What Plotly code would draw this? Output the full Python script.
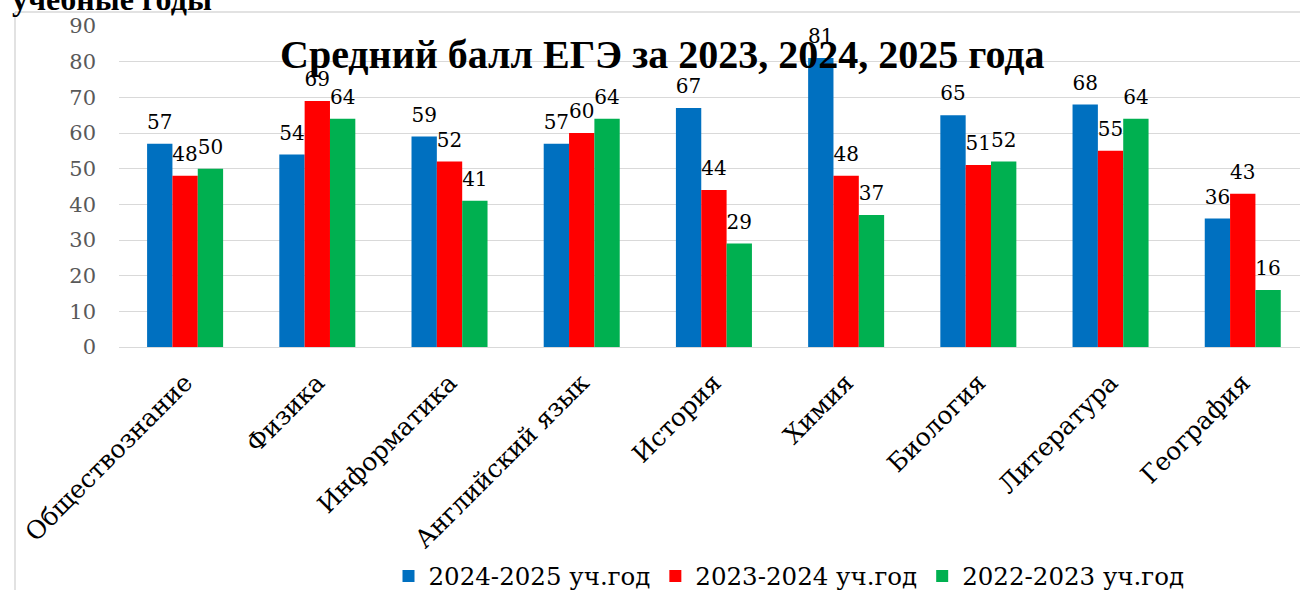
import plotly.graph_objects as go

categories = ["Обществознание", "Физика", "Информатика", "Английский язык",
              "История", "Химия", "Биология", "Литература", "География"]
series_names = ["2024-2025 уч.год", "2023-2024 уч.год", "2022-2023 уч.год"]
vals_2024_2025 = [57, 54, 59, 57, 67, 81, 65, 68, 36]
vals_2023_2024 = [48, 69, 52, 60, 44, 48, 51, 55, 43]
vals_2022_2023 = [50, 64, 41, 64, 29, 37, 52, 64, 16]
y_ticks = [0, 10, 20, 30, 40, 50, 60, 70, 80, 90]
colors = ["#0070C0", "#FF0000", "#00B050"]

SERIF = "DejaVu Serif"
fig = go.Figure()
all_vals = [vals_2024_2025, vals_2023_2024, vals_2022_2023]
for i, (name, vals, col) in enumerate(zip(series_names, all_vals, colors)):
    fig.add_trace(go.Bar(x=categories, y=vals, name=name, marker_color=col,
                         marker_line_width=0, offsetgroup=str(i)))
for i, vals in enumerate(all_vals):
    fig.add_trace(go.Scatter(x=categories, y=vals, mode="markers+text",
                             text=[str(v) for v in vals], textposition="top center",
                             marker=dict(size=14, opacity=0), showlegend=False,
                             hoverinfo="skip", offsetgroup=str(i), cliponaxis=False,
                             textfont=dict(family=SERIF, size=20, color="#000000")))

L, T, B = 119, 26, 243
W, H = 1300, 590
pw = W - L
ph = H - T - B
def px_x(x):
    return (x - L) / pw
def px_y(y):
    return (H - B - y) / ph

fig.update_layout(
    width=W, height=H, margin=dict(l=L, r=0, t=T, b=B, autoexpand=False),
    paper_bgcolor="white", plot_bgcolor="white",
    barmode="group", bargap=0.425, bargroupgap=0,
    scattermode="group", scattergap=0.425,
    xaxis=dict(range=[-0.5, 8.433], tickangle=-45, showgrid=False, zeroline=False,
               showline=False, ticks="", automargin=False,
               tickfont=dict(family=SERIF, size=25, color="#000000"), ticklabelstandoff=15),
    yaxis=dict(range=[0, 90], tickvals=y_ticks, showgrid=True, gridcolor="#D9D9D9",
               gridwidth=1.3, zeroline=True, zerolinecolor="#D9D9D9", zerolinewidth=1.3,
               ticks="", automargin=False, tickfont=dict(family=SERIF, size=21, color="#595959"),
               ticklabelstandoff=22),
    legend=dict(orientation="h", x=px_x(789), xanchor="center", y=px_y(576), yanchor="middle",
                font=dict(family=SERIF, size=24.5, color="#000000"), itemwidth=30,
                traceorder="normal"),
    showlegend=True,
)

fig.add_annotation(text="<b>Средний балл ЕГЭ за 2023, 2024, 2025 года</b>",
                   xref="paper", yref="paper", x=px_x(662), y=px_y(54), xanchor="center",
                   yanchor="middle", showarrow=False,
                   font=dict(family="Liberation Serif", size=40, color="#000000"))
fig.add_annotation(text="<b>учебные годы</b>",
                   xref="paper", yref="paper", x=px_x(10), y=px_y(19), xanchor="left",
                   yanchor="bottom", showarrow=False,
                   font=dict(family="Liberation Serif", size=32, color="#000000"))

# chart frame lines
fig.add_shape(type="line", xref="paper", yref="paper", x0=px_x(15), x1=px_x(1310),
              y0=px_y(12), y1=px_y(12), line=dict(color="#D9D9D9", width=1.5))
fig.add_shape(type="line", xref="paper", yref="paper", x0=px_x(15), x1=px_x(15),
              y0=px_y(12), y1=px_y(600), line=dict(color="#D9D9D9", width=1.5))

fig.write_html("out.html")
